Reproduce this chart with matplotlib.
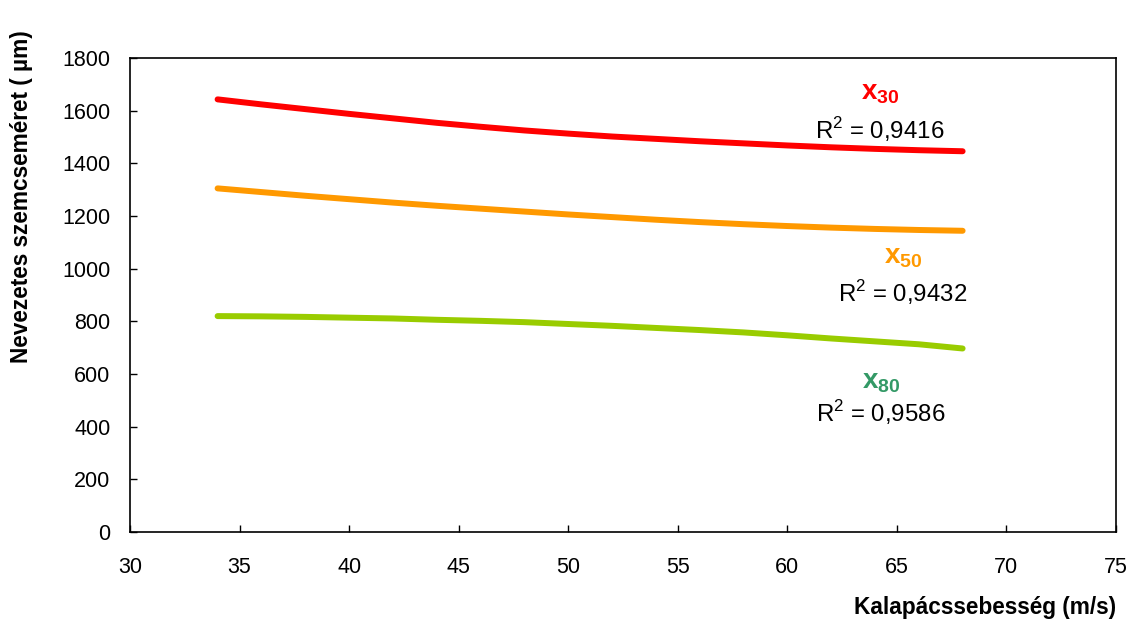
import matplotlib
matplotlib.use('Agg')
import matplotlib.pyplot as plt

# ------------------------------------------------------------
# data (hammer speed vs. characteristic size)
# ------------------------------------------------------------
speed = [34, 36, 38, 40, 42, 44, 46, 48, 50, 52, 54, 56, 58, 60, 62, 64, 66, 68]

x30 = [1643, 1624, 1606, 1588, 1571, 1554, 1539, 1525, 1513,
       1502, 1493, 1484, 1476, 1468, 1461, 1455, 1450, 1446]
x50 = [1305, 1291, 1277, 1264, 1251, 1239, 1228, 1217, 1206,
       1196, 1186, 1177, 1169, 1162, 1156, 1151, 1147, 1144]
x80 = [820, 819, 817, 814, 811, 806, 802, 797, 790,
       783, 775, 767, 758, 747, 735, 724, 713, 697]

r2_labels = ['0,9416', '0,9432', '0,9586']
series_names = ['30', '50', '80']

x_ticks = list(range(30, 80, 5))
y_ticks = list(range(0, 2000, 200))

plt.rcParams['font.family'] = ['Liberation Sans', 'DejaVu Sans']
plt.rcParams['mathtext.fontset'] = 'custom'
plt.rcParams['mathtext.rm'] = 'Liberation Sans'
plt.rcParams['mathtext.bf'] = 'Liberation Sans:bold'

fig = plt.figure(figsize=(11.3, 6.24), dpi=100)
ax = fig.add_axes([0.115, 0.1474, 0.8726, 0.7596])

line_colors = ['#FF0000', '#FF9900', '#99CC00']
label_colors = ['#FF0000', '#FF9900', '#339966']

for vals, c in zip([x30, x50, x80], line_colors):
    ax.plot(speed, vals, color=c, lw=4.3, solid_capstyle='round',
            solid_joinstyle='round')

# series labels + R^2 texts
name_pos = [(64.23, 1667), (65.3, 1044), (64.27, 570)]
r2_pos = [(64.23, 1527), (65.28, 908), (64.27, 452)]
for name, r2, npos, rpos, c in zip(series_names, r2_labels, name_pos, r2_pos, label_colors):
    ax.text(npos[0], npos[1], r'$\mathbf{x_{%s}}$' % name, color=c,
            fontsize=20, ha='center', va='center')
    ax.text(rpos[0], rpos[1], r'R$^{2}$ = ' + r2, color='black',
            fontsize=17.3, ha='center', va='center')

ax.set_xlim(30, 75)
ax.set_ylim(0, 1800)
ax.set_xticks(x_ticks)
ax.set_yticks(y_ticks)
ax.tick_params(axis='both', direction='in', length=5, width=1.0,
               labelsize=15.5, top=False, right=False)
ax.tick_params(axis='y', pad=14)
ax.tick_params(axis='x', pad=18)
for s in ax.spines.values():
    s.set_linewidth(1.2)
    s.set_color('black')

ax.set_xlabel('Kalapácssebesség (m/s)', fontsize=16.3, fontweight='bold',
              ha='right', va='center')
ax.xaxis.set_label_coords(1.0, -0.16)
ax.set_ylabel('Nevezetes szemcseméret ( µm)', fontsize=16.3, fontweight='bold',
              ha='center', va='center')
ax.yaxis.set_label_coords(-0.1095, 0.707)

fig.savefig('out.png', dpi=100)
